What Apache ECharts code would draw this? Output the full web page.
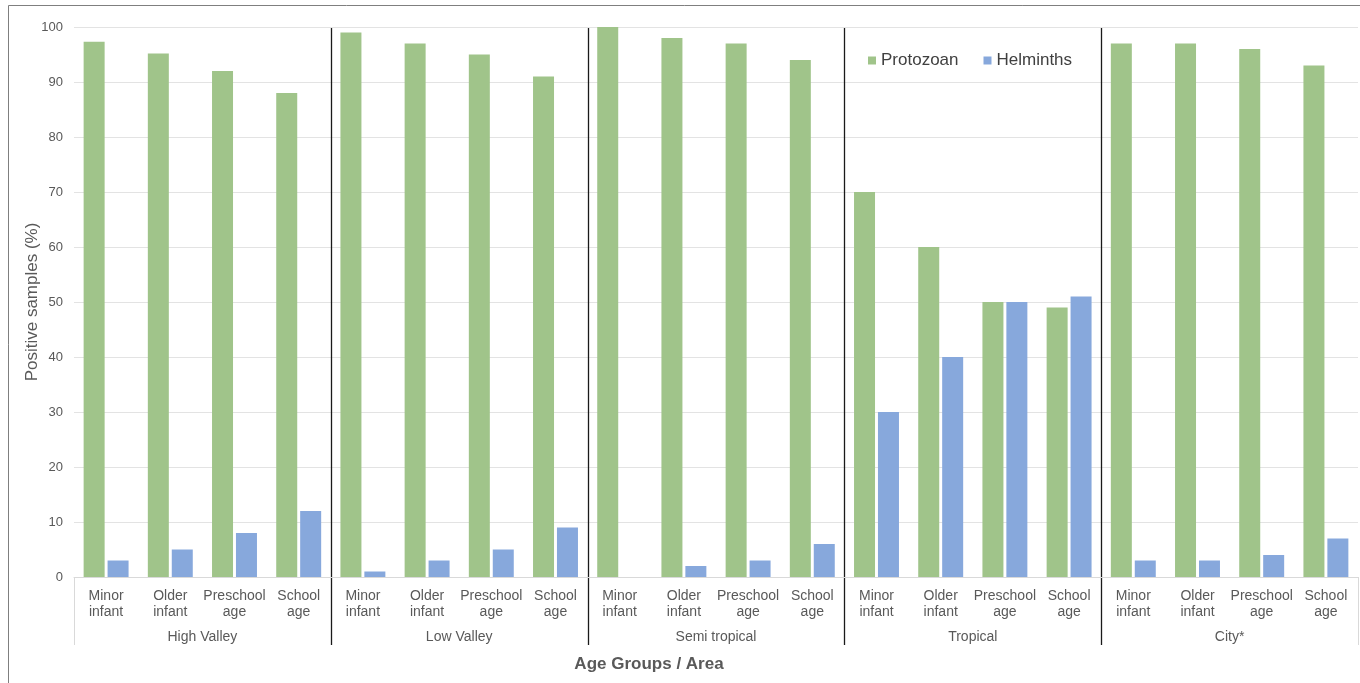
<!DOCTYPE html>
<html>
<head>
<meta charset="utf-8">
<script src="https://cdn.jsdelivr.net/npm/echarts@6/dist/echarts.min.js"></script>
<style>
  html, body { margin: 0; padding: 0; background: #fff; }
  #chart { width: 1360px; height: 683px; }
</style>
</head>
<body>
<div id="chart"></div>
<script>
// Age groups repeated within each area
const ageGroups = ['Minor\ninfant', 'Older\ninfant', 'Preschool\nage', 'School\nage'];
const areas = ['High Valley', 'Low Valley', 'Semi tropical', 'Tropical', 'City*'];

// Positive samples (%) per area, in age-group order
const protozoan = [
  97.3, 95.2, 92, 88,   // High Valley
  99, 97, 95, 91,       // Low Valley
  100, 98, 97, 94,      // Semi tropical
  70, 60, 50, 49,       // Tropical
  97, 97, 96, 93        // City*
];
const helminths = [
  3, 5, 8, 12,
  1, 3, 5, 9,
  0, 2, 3, 6,
  30, 40, 50, 51,
  3, 3, 4, 7
];

const categories = [];
areas.forEach(function (a) { ageGroups.forEach(function (g) { categories.push(g); }); });

const GREEN = '#A0C48A';
const BLUE = '#87A8DC';
const TEXT = '#595959';
const FONT = '"Liberation Sans", Arial, sans-serif';

const chart = echarts.init(document.getElementById('chart'));

chart.setOption({
  animation: false,
  textStyle: { fontFamily: FONT },
  grid: { left: 74, right: 2, top: 27, bottom: 106, containLabel: false },
  legend: {
    data: ['Protozoan', 'Helminths'],
    left: 863, top: 47,
    icon: 'rect', itemWidth: 8, itemHeight: 8, itemGap: 25,
    textStyle: { fontSize: 17, color: '#404040', fontFamily: FONT }
  },
  xAxis: [
    {
      type: 'category',
      data: categories,
      axisLine: { show: true, lineStyle: { color: '#d9d9d9', width: 1 } },
      axisTick: { show: false },
      axisLabel: {
        interval: 0, margin: 11, color: TEXT, fontSize: 14, lineHeight: 16,
        fontFamily: FONT
      }
    },
    {
      type: 'category',
      data: areas,
      position: 'bottom',
      axisLine: { show: false },
      axisTick: { show: false },
      axisLabel: { interval: 0, margin: 53, color: TEXT, fontSize: 14, fontFamily: FONT }
    }
  ],
  yAxis: {
    type: 'value', min: 0, max: 100, interval: 10,
    name: 'Positive samples (%)',
    nameLocation: 'middle', nameGap: 33, nameMoveOverlap: false,
    nameTextStyle: { fontSize: 17, color: TEXT, fontFamily: FONT },
    axisLine: { show: false },
    axisTick: { show: false },
    axisLabel: { color: TEXT, fontSize: 13, margin: 11, fontFamily: FONT },
    splitLine: { lineStyle: { color: '#e3e3e3', width: 1 } }
  },
  series: [
    {
      name: 'Protozoan', type: 'bar', xAxisIndex: 0,
      data: protozoan, barWidth: 21, barGap: '14%',
      itemStyle: { color: GREEN }
    },
    {
      name: 'Helminths', type: 'bar', xAxisIndex: 0,
      data: helminths, barWidth: 21, barGap: '14%',
      itemStyle: { color: BLUE }
    }
  ]
});

// Area separators and the bracket edges of the category label band
function drawSeparators() {
  const yTop = chart.convertToPixel({ yAxisIndex: 0 }, 100);
  const yZero = chart.convertToPixel({ yAxisIndex: 0 }, 0);
  const bottom = yZero + 68;
  const per = ageGroups.length;
  const elements = [];
  const first = chart.convertToPixel({ xAxisIndex: 0 }, 0);
  const second = chart.convertToPixel({ xAxisIndex: 0 }, 1);
  const band = second - first;
  for (let k = 0; k <= areas.length; k++) {
    const x = Math.round(first - band / 2 + k * per * band) + 0.5;
    const inner = k > 0 && k < areas.length;
    elements.push({
      type: 'line', silent: true,
      shape: { x1: x, y1: inner ? yTop + 1 : yZero, x2: x, y2: bottom },
      style: { stroke: inner ? '#1a1a1a' : '#d9d9d9', lineWidth: inner ? 1.3 : 1 }
    });
  }
  // frame around the figure
  elements.push({
    type: 'line', silent: true,
    shape: { x1: 8.5, y1: 5.5, x2: 1360, y2: 5.5 },
    style: { stroke: '#7f7f7f', lineWidth: 1 }
  });
  elements.push({
    type: 'line', silent: true,
    shape: { x1: 8.5, y1: 5.5, x2: 8.5, y2: 683 },
    style: { stroke: '#7f7f7f', lineWidth: 1 }
  });
  elements.push({
    type: 'text', silent: true,
    x: 649, y: 664,
    style: {
      text: 'Age Groups / Area', fill: TEXT, font: 'bold 17px ' + FONT,
      textAlign: 'center', textVerticalAlign: 'middle'
    }
  });
  chart.setOption({ graphic: elements });
}
drawSeparators();
</script>
</body>
</html>
